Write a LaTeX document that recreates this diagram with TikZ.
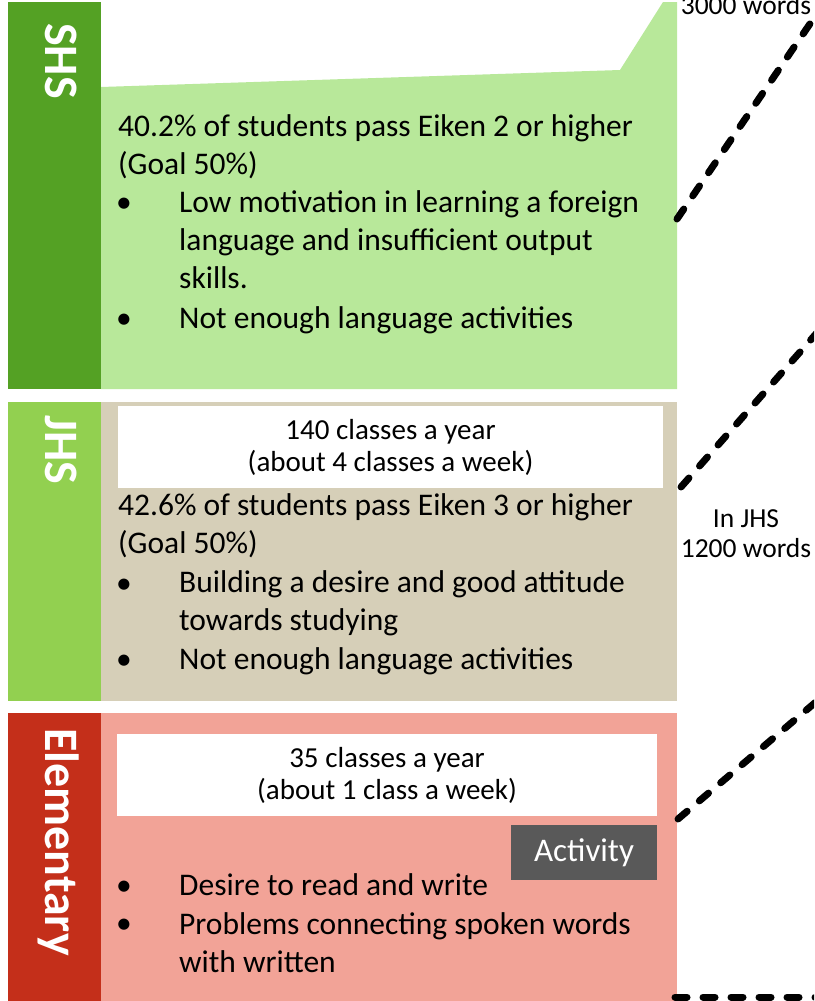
\documentclass[tikz,border=0pt]{standalone}
\usepackage{fontspec}
\setmainfont{Carlito}

\definecolor{shsdark}{RGB}{84,161,36}
\definecolor{shslight}{RGB}{184,232,154}
\definecolor{jhsdark}{RGB}{146,208,80}
\definecolor{jhslight}{RGB}{214,207,184}
\definecolor{elemdark}{RGB}{196,47,26}
\definecolor{elemlight}{RGB}{242,163,151}
\definecolor{actgray}{RGB}{89,89,89}

\begin{document}
\begin{tikzpicture}[x=1pt,y=-1pt]
\tikzstyle{every node}+=[inner sep=0pt]
\tikzstyle{level}=[rotate=-90, anchor=base west, text=white, font=\fontsize{48}{48}\selectfont\bfseries]
\tikzstyle{body}=[anchor=base west, align=left, font=\fontsize{31.5}{38}\selectfont]
\tikzstyle{dot}=[anchor=base west, font=\fontsize{31.5}{38}\selectfont]
\tikzstyle{hours}=[fill=white, align=center, font=\fontsize{29}{32}\selectfont]
\tikzstyle{words}=[align=center, font=\fontsize{27.5}{30}\selectfont]
\tikzstyle{link}=[black, line width=7pt, line cap=round, dash pattern=on 12pt off 16pt]

\fill [white] (0,0) rectangle (814,1001);
\useasboundingbox (0,0) rectangle (814,1001);
\clip (0,0) rectangle (814,1001);

% senior high (base of a node with several lines = last line)
\fill [shsdark] (8,2) rectangle (101,389);
\fill [shslight] (101,87) -- (620,70) -- (663,2) -- (677,2) -- (677,389) -- (101,389) -- cycle;
\node [level] (shs) at (45,23) {SHS};
\node [body] (shsrate) at (118,174) {40.2\% of students pass Eiken 2 or higher\\(Goal 50\%)};
\node [dot] (shsb1) at (116,212) {\textbullet};
\node [body] (shsp1) at (179,288) {Low motivation in learning a foreign\\language and insufficient output\\skills.};
\node [dot] (shsb2) at (116,328) {\textbullet};
\node [body] (shsp2) at (179,328) {Not enough language activities};

% junior high
\fill [jhsdark] (8,402) rectangle (101,701);
\fill [jhslight] (101,402) rectangle (677,701);
\node [level] (jhs) at (45,415) {JHS};
\node [hours, minimum width=545pt, minimum height=82pt] (jhsbox) at (390.5,447) {140 classes a year\\(about 4 classes a week)};
\node [body] (jhsrate) at (118,553) {42.6\% of students pass Eiken 3 or higher\\(Goal 50\%)};
\node [dot] (jhsb1) at (116,593) {\textbullet};
\node [body] (jhsp1) at (179,630) {Building a desire and good attitude\\towards studying};
\node [dot] (jhsb2) at (116,669) {\textbullet};
\node [body] (jhsp2) at (179,669) {Not enough language activities};

% elementary
\fill [elemdark] (8,713) rectangle (101,1001);
\fill [elemlight] (101,713) rectangle (677,1001);
\node [level] (elem) at (45,728) {Elementary};
\node [hours, minimum width=540pt, minimum height=82pt] (elembox) at (387,775) {35 classes a year\\(about 1 class a week)};
\node [fill=actgray, text=white, minimum width=146pt, minimum height=55pt, font=\fontsize{33}{33}\selectfont] (act) at (584,852.5) {Activity};
\node [dot] (elemb1) at (116,895) {\textbullet};
\node [body] (elemp1) at (179,895) {Desire to read and write};
\node [dot] (elemb2) at (116,933) {\textbullet};
\node [body] (elemp2) at (179,972) {Problems connecting spoken words\\with written};

% vocabulary links
\node [words, anchor=base] (w3000) at (746,14) {3000 words};
\node [words, anchor=base] (w1200) at (746,557) {In JHS\\1200 words};
\coordinate (shsout) at (677,219);
\coordinate (shsfar) at (833,-10);
\coordinate (jhsout) at (681,487);
\coordinate (jhsfar) at (830,318);
\coordinate (elemout) at (678,819);
\coordinate (elemfar) at (830,690);
\coordinate (baseout) at (675,997);
\coordinate (basefar) at (830,997);
\draw [link] (shsout) -- (shsfar);
\draw [link] (jhsout) -- (jhsfar);
\draw [link] (elemout) -- (elemfar);
\draw [link] (baseout) -- (basefar);
\end{tikzpicture}
\end{document}
